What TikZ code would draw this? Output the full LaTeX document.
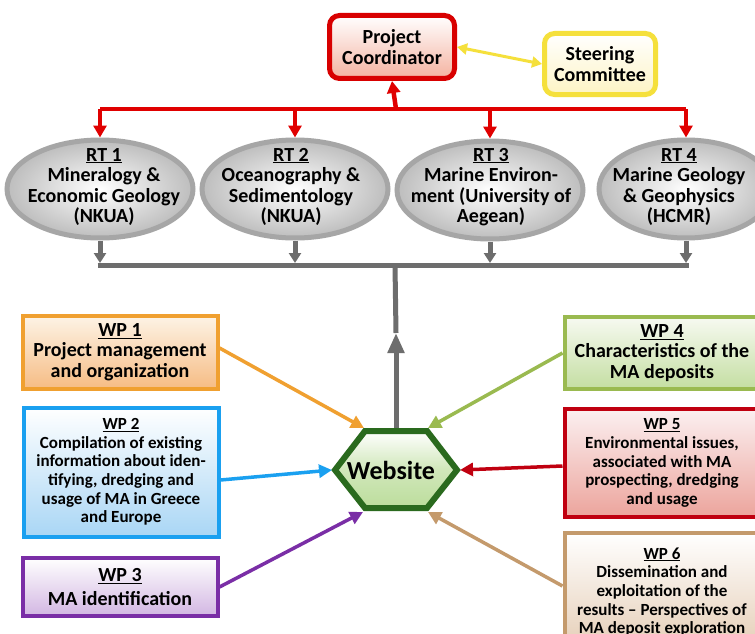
\documentclass[tikz,border=0pt]{standalone}
\usepackage{fontspec}
\setmainfont{Carlito}
\usetikzlibrary{arrows.meta,shapes.geometric}
\definecolor{pcred}{HTML}{D80000}
\definecolor{pcfill}{HTML}{F4B2A0}
\definecolor{scyel}{HTML}{F5E03C}
\definecolor{scfill}{HTML}{FDF4C4}
\definecolor{rtgray}{HTML}{A6A6A6}
\definecolor{rtfill}{HTML}{BDBDBD}
\definecolor{linegray}{HTML}{6D6D6D}
\definecolor{redline}{HTML}{E00000}
\definecolor{wpAc}{HTML}{F0A030}
\definecolor{wpAf}{HTML}{F6BC84}
\definecolor{wpBc}{HTML}{1AA0F0}
\definecolor{wpBf}{HTML}{A9D6F5}
\definecolor{wpCc}{HTML}{7A2EA6}
\definecolor{wpCf}{HTML}{D2B6E2}
\definecolor{wpDc}{HTML}{9ABA50}
\definecolor{wpDf}{HTML}{C4DEA2}
\definecolor{wpEc}{HTML}{C00010}
\definecolor{wpEf}{HTML}{ECA49C}
\definecolor{wpFc}{HTML}{C49A6C}
\definecolor{wpFf}{HTML}{E5CDB5}
\definecolor{hexc}{HTML}{2A6A1E}
\definecolor{hexf}{HTML}{BCDD9C}
\tikzset{
  bigtxt/.style={font=\fontsize{20}{20.5}\selectfont\bfseries, align=center},
  smalltxt/.style={font=\fontsize{17}{18.7}\selectfont\bfseries, align=center},
  wpbox/.style={draw, line width=4pt, minimum width=195pt, inner sep=0pt},
  rtell/.style={ellipse, draw=rtgray, line width=5pt, minimum width=186pt, minimum height=98pt, inner sep=0pt, inner color=white, outer color=rtfill},
  redl/.style={draw=redline, line width=4.5pt},
  grayl/.style={draw=linegray, line width=5pt},
  tip/.style={-{Triangle[length=12pt,width=13pt]}},
  wparrow/.style={line width=3.5pt, -{Triangle[length=13pt,width=13pt]}}
}
\begin{document}
\begin{tikzpicture}[x=1pt,y=-1pt]
\useasboundingbox (0,0) rectangle (755,634);
\clip (0,0) rectangle (755,634);
\fill[white] (0,0) rectangle (755,634);

% top boxes
\node[draw=pcred, line width=5pt, rounded corners=10pt, top color=white, bottom color=pcfill,
      minimum width=125pt, minimum height=63pt, bigtxt] (pc) at (392,47) {Project\\Coordinator};
\node[draw=scyel, line width=5pt, rounded corners=10pt, top color=white, bottom color=scfill,
      minimum width=111pt, minimum height=61pt, bigtxt] (sc) at (600,64) {Steering\\Committee};
\draw[draw=scyel, line width=3pt, {Triangle[length=10pt,width=11pt]}-{Triangle[length=10pt,width=11pt]}] (pc.east) -- (sc.west);

% research teams
\node[rtell] (rt1) at (100,189) {};
\node[rtell] (rt2) at (295,189) {};
\node[rtell] (rt3) at (490,190) {};
\node[rtell, minimum width=174pt] (rt4) at (686,189) {};
\node[bigtxt] (t1) at (104,187) {\underline{RT 1}\\Mineralogy \&\\Economic Geology\\(NKUA)};
\node[bigtxt] (t2) at (291,187) {\underline{RT 2}\\Oceanography \&\\Sedimentology\\(NKUA)};
\node[bigtxt] (t3) at (491,187) {\underline{RT 3}\\Marine Environ-\\ment (University of\\Aegean)};
\node[bigtxt] (t4) at (679,187) {\underline{RT 4}\\Marine Geology\\\& Geophysics\\(HCMR)};

% red distribution
\coordinate (rb) at (396,109);
\draw[redl] (rt1.north |- rb) -- (rt4.north |- rb);
\draw[redl, tip] (rb) -- (pc.south);
\foreach \r in {rt1,rt2,rt3,rt4}{
  \draw[redl, tip] (\r.north |- rb) -- (\r.north);
}

% gray collection
\coordinate (gb) at (395,265);
\draw[grayl] ([xshift=-2.5pt]rt1.south |- gb) -- ([xshift=2.5pt]rt4.south |- gb);
\foreach \r in {rt1,rt2,rt3,rt4}{
  \draw[grayl, -{Triangle[length=10pt,width=12pt]}] (\r.south) -- ([yshift=2pt]\r.south |- gb);
}

% hexagon
\coordinate (hW) at (335,470);
\coordinate (hNW) at (365,431);
\coordinate (hNE) at (427,431);
\coordinate (hE) at (457,470);
\coordinate (hSE) at (427,508);
\coordinate (hSW) at (365,508);
\coordinate (hN) at (396,431);
\coordinate (gmid) at (396,333);
\draw[grayl, -{Triangle[length=20pt,width=16pt]}] (hN) -- (gmid);
\draw[grayl] (gmid) -- (gb);
\draw[draw=hexc, line width=6pt, line join=miter, top color=white, bottom color=hexf, middle color=hexf!70]
  (hW) -- (hNW) -- (hNE) -- (hE) -- (hSE) -- (hSW) -- cycle;
\node[font=\fontsize{26}{26}\selectfont\bfseries] (web) at (391,470) {Website};

% work packages
\node[wpbox, draw=wpAc, top color=wpAc!12, bottom color=wpAf, minimum height=73pt, bigtxt] (wp1) at (120,352)
  {\underline{WP 1}\\Project management\\and organization};
\node[wpbox, draw=wpBc, top color=white, bottom color=wpBf, minimum height=129pt, smalltxt] (wp2) at (121,472)
  {\underline{WP 2}\\Compilation of existing\\information about iden-\\tifying, dredging and\\usage of MA in Greece\\and Europe};
\node[wpbox, draw=wpCc, top color=white, bottom color=wpCf, minimum height=58pt, bigtxt, font=\fontsize{20}{24}\selectfont\bfseries] (wp3) at (120,587)
  {\underline{WP 3}\\MA identification};
\node[wpbox, draw=wpDc, top color=wpDc!8, bottom color=wpDf, minimum height=72pt, bigtxt] (wp4) at (662,353)
  {\underline{WP 4}\\Characteristics of the\\MA deposits};
\node[wpbox, draw=wpEc, top color=wpEc!6, bottom color=wpEf, minimum height=108pt, smalltxt] (wp5) at (662,463)
  {\underline{WP 5}\\Environmental issues,\\associated with MA\\prospecting, dredging\\and usage};
\node[wpbox, draw=wpFc, top color=white, bottom color=wpFf, minimum height=118pt, smalltxt] (wp6) at (662,592)
  {\underline{WP 6}\\Dissemination and\\exploitation of the\\results -- Perspectives of\\MA deposit exploration};

% arrows into website
\draw[wpAc, wparrow] ([yshift=4pt]wp1.east) -- ([shift={(-1pt,3pt)}]hNW);
\draw[wpBc, wparrow] ([yshift=-8pt]wp2.east) -- ([xshift=-3pt]hW);
\draw[wpCc, wparrow] (wp3.east) -- ([shift={(-2pt,-4pt)}]hSW);
\draw[wpDc, wparrow] (wp4.west) -- ([shift={(1pt,3pt)}]hNE);
\draw[wpEc, wparrow] ([yshift=-3pt]wp5.west) -- ([xshift=3pt]hE);
\draw[wpFc, wparrow] ([yshift=6pt]wp6.west) -- ([shift={(1pt,-4pt)}]hSE);
\end{tikzpicture}
\end{document}
